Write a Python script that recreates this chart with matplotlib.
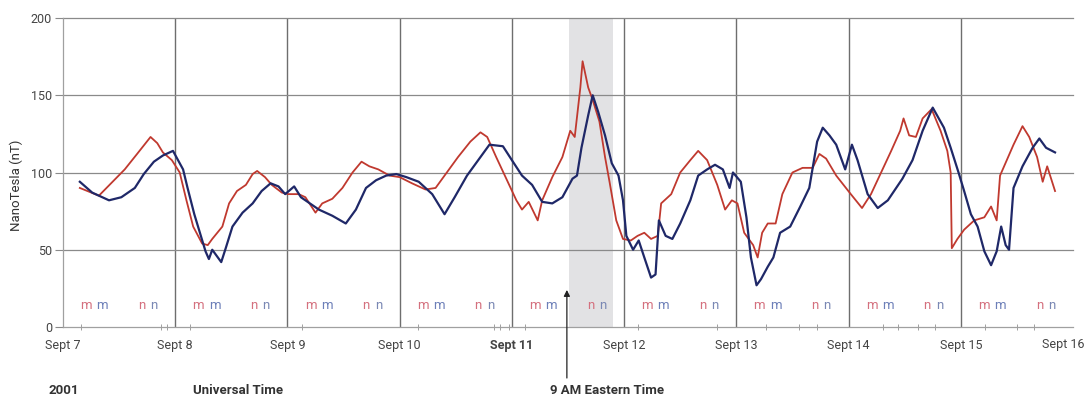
import matplotlib
matplotlib.use("Agg")
import matplotlib.pyplot as plt
import matplotlib.transforms as mtransforms
import numpy as np

plt.rcParams.update({"font.family": ["Roboto", "DejaVu Sans"], "font.size": 9})

# time in days after Sept 7 00:00 UT, field in nT
red_t = [0.15, 0.32, 0.55, 0.66, 0.78, 0.84, 0.89, 0.97, 1.04, 1.10, 1.16, 1.24,
         1.29, 1.33, 1.42, 1.48, 1.55, 1.63, 1.69, 1.73, 1.80, 1.86, 1.95, 2.01,
         2.10, 2.16, 2.25, 2.31, 2.40, 2.49, 2.58, 2.66, 2.73, 2.81, 2.91, 3.00,
         3.11, 3.23, 3.32, 3.40, 3.52, 3.63, 3.72, 3.78, 3.86, 3.95, 4.04, 4.09,
         4.15, 4.23, 4.27, 4.36, 4.45, 4.52, 4.56, 4.61, 4.63, 4.68, 4.72, 4.78,
         4.83, 4.87, 4.93, 4.99, 5.06, 5.12, 5.18, 5.24, 5.30, 5.33, 5.42, 5.50,
         5.59, 5.66, 5.74, 5.83, 5.90, 5.96, 6.01, 6.07, 6.15, 6.19, 6.23, 6.28,
         6.35, 6.41, 6.50, 6.59, 6.68, 6.74, 6.80, 6.89, 7.02, 7.12, 7.20, 7.29,
         7.38, 7.46, 7.49, 7.54, 7.60, 7.66, 7.74, 7.82, 7.88, 7.91, 7.92, 7.97,
         8.03, 8.12, 8.21, 8.27, 8.32, 8.35, 8.41, 8.47, 8.55, 8.61, 8.68, 8.73,
         8.77, 8.84]
red_v = [90, 85, 102, 112, 123, 119, 113, 108, 100, 82, 65, 54,
         53, 57, 65, 80, 88, 92, 99, 101, 97, 92, 87, 86,
         86, 84, 74, 80, 83, 90, 100, 107, 104, 102, 98, 97,
         93, 89, 90, 98, 110, 120, 126, 123, 110, 96, 82, 76,
         81, 69, 82, 97, 110, 127, 123, 155, 172, 155, 147, 133,
         110, 94, 69, 57, 56, 59, 61, 57, 59, 80, 86, 100,
         108, 114, 108, 92, 76, 82, 80, 61, 53, 45, 61, 67,
         67, 86, 100, 103, 103, 112, 109, 98, 86, 77, 86, 100,
         114, 127, 135, 124, 123, 135, 141, 127, 114, 100, 51, 57,
         63, 69, 71, 78, 69, 98, 108, 118, 130, 123, 110, 94,
         104, 88]

blue_t = [0.15, 0.26, 0.41, 0.52, 0.64, 0.72, 0.81, 0.89, 0.98, 1.01, 1.07, 1.11,
          1.17, 1.22, 1.27, 1.30, 1.33, 1.41, 1.45, 1.51, 1.60, 1.69, 1.77, 1.85,
          1.92, 1.98, 2.06, 2.12, 2.16, 2.28, 2.40, 2.52, 2.61, 2.70, 2.79, 2.88,
          2.97, 3.06, 3.17, 3.29, 3.40, 3.49, 3.60, 3.72, 3.80, 3.92, 4.00, 4.09,
          4.18, 4.27, 4.36, 4.45, 4.54, 4.58, 4.62, 4.68, 4.72, 4.77, 4.83, 4.89,
          4.95, 4.99, 5.02, 5.08, 5.13, 5.18, 5.24, 5.28, 5.31, 5.37, 5.43, 5.50,
          5.59, 5.66, 5.74, 5.81, 5.88, 5.94, 5.97, 6.04, 6.09, 6.13, 6.18, 6.22,
          6.28, 6.33, 6.39, 6.48, 6.57, 6.65, 6.72, 6.77, 6.83, 6.89, 6.97, 7.03,
          7.08, 7.17, 7.26, 7.35, 7.48, 7.57, 7.66, 7.75, 7.85, 7.91, 7.98, 8.03,
          8.09, 8.15, 8.21, 8.27, 8.32, 8.36, 8.40, 8.43, 8.47, 8.55, 8.64, 8.70,
          8.76, 8.84]
blue_v = [94, 87, 82, 84, 90, 99, 107, 111, 114, 110, 102, 90,
          73, 61, 49, 44, 50, 42, 51, 65, 74, 80, 88, 93,
          91, 86, 91, 84, 82, 76, 72, 67, 76, 90, 95, 98,
          99, 97, 94, 86, 73, 84, 98, 110, 118, 117, 108, 98,
          92, 81, 80, 84, 96, 98, 116, 137, 150, 139, 124, 106,
          98, 82, 59, 50, 56, 45, 32, 34, 69, 59, 57, 67,
          82, 98, 102, 105, 102, 90, 100, 94, 71, 45, 27, 31,
          39, 45, 61, 65, 78, 90, 120, 129, 124, 118, 102, 118,
          108, 86, 77, 82, 96, 108, 127, 142, 129, 116, 100, 88,
          73, 65, 49, 40, 49, 65, 53, 50, 90, 104, 116, 122,
          116, 113]

day_labels = ["Sept 7", "Sept 8", "Sept 9", "Sept 10", "Sept 11", "Sept 12",
              "Sept 13", "Sept 14", "Sept 15", "Sept 16"]
minor_ticks = [0.16, 0.87, 0.93, 1.13, 2.13, 3.16, 3.84, 3.89, 3.97, 4.12, 5.12,
               5.83, 6.26, 6.56, 6.72, 7.31, 7.44, 7.62, 7.77, 8.22, 8.5, 8.65]
shade_start, shade_end = 4.51, 4.90
arrow_x = 4.49

RED = "#c0392f"
BLUE = "#1f2868"
GRID = "#8a8a8a"
TXT = "#333333"

fig = plt.figure(figsize=(10.91, 4.0), dpi=100)
ax = fig.add_axes([63 / 1091, 1 - 327 / 400, 1010 / 1091, 309 / 400])

ax.axvspan(shade_start, shade_end, color="#e2e2e4", lw=0, zorder=0)

ax.plot(red_t, red_v, color=RED, lw=1.3, zorder=3)
ax.plot(blue_t, blue_v, color=BLUE, lw=1.6, zorder=4)

# m / n markers under each day
for d in range(9):
    for off, ch, col in [(0.205, "m", "#d4707e"), (0.35, "m", "#6c7fb8"),
                         (0.70, "n", "#d4707e"), (0.81, "n", "#7a88b4")]:
        ax.text(d + off, 14, ch, color=col, fontsize=9.5, ha="center",
                va="center", zorder=5)

ax.set_xlim(0, 9)
ax.set_ylim(0, 200)
ax.set_yticks([0, 50, 100, 150, 200])
ax.set_xticks(range(10))
# last label is drawn separately so it can sit inside the figure edge
ax.set_xticklabels(day_labels[:-1] + [""])
ax.get_xticklabels()[4].set_fontweight("bold")
ax.annotate(day_labels[-1], xy=(9, 0), xycoords="data",
            xytext=(-10, -11), textcoords="offset pixels",
            ha="center", va="top", fontsize=9, color="#444444",
            annotation_clip=False)
ax.set_xticks(minor_ticks, minor=True)

for d in range(1, 9):
    ax.axvline(d, color="#6e6e6e", lw=1.0, zorder=1)
for v in [50, 100, 150, 200]:
    ax.axhline(v, color=GRID, lw=0.9, zorder=1, clip_on=False)

for s in ["top", "right"]:
    ax.spines[s].set_visible(False)
for s in ["left", "bottom"]:
    ax.spines[s].set_color("#a0a0a0")
    ax.spines[s].set_linewidth(0.9)

ax.tick_params(axis="y", length=6, color=GRID, labelcolor="#444444", pad=2)
ax.tick_params(axis="x", which="major", length=0, labelcolor="#444444", pad=9)
ax.tick_params(axis="x", which="minor", length=5, direction="inout",
               color="#909090")

fig.text(16 / 1091, 1 - 185 / 400, "NanoTesla (nT)", rotation=90,
         ha="center", va="center", fontsize=9.5, color=TXT)

fig.text(64 / 1091, 1 - 390 / 400, "2001", ha="center", va="center",
         fontsize=9.5, color=TXT, fontweight="semibold")
fig.text(238 / 1091, 1 - 390 / 400, "Universal Time", ha="center",
         va="center", fontsize=9.5, color=TXT, fontweight="semibold")
fig.text(607 / 1091, 1 - 390 / 400, "9 AM Eastern Time", ha="center",
         va="center", fontsize=9.5, color=TXT, fontweight="semibold")

trans = mtransforms.blended_transform_factory(ax.transData, fig.transFigure)
ax.annotate("", xy=(arrow_x, 24), xycoords="data",
            xytext=(arrow_x, 1 - 378 / 400), textcoords=trans,
            arrowprops=dict(arrowstyle="-|>", color="#222222", lw=0.9,
                            mutation_scale=9, shrinkA=0, shrinkB=0),
            annotation_clip=False)

fig.savefig("out.png", dpi=100)
